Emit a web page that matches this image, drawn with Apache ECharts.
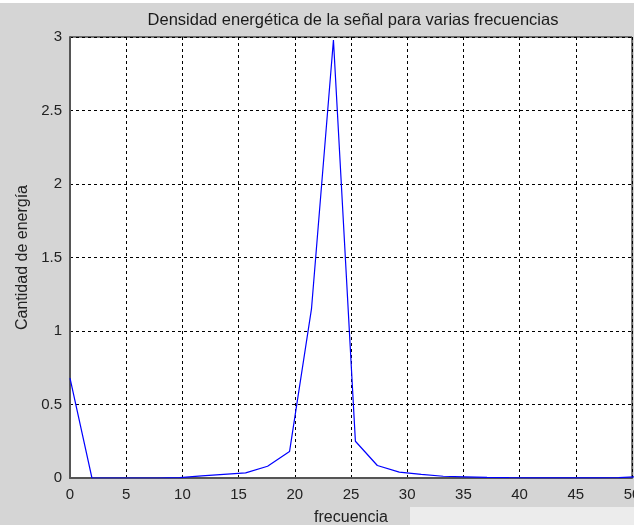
<!DOCTYPE html>
<html>
<head>
<meta charset="utf-8">
<script src="https://cdn.jsdelivr.net/npm/echarts@6/dist/echarts.min.js"></script>
<style>
html,body{margin:0;padding:0;background:#fff;}
#c{width:634px;height:525px;}
</style>
</head>
<body>
<div id="c"></div>
<script>
var frequencies = [0, 1.953, 3.906, 5.859, 7.813, 9.766, 11.719, 13.672, 15.625, 17.578, 19.531, 21.484, 23.438, 25.391, 27.344, 29.297, 31.25, 33.203, 35.156, 37.109, 39.063, 41.016, 42.969, 44.922, 46.875, 48.828, 50.781];
var energy = [0.68, 0.0, 0.0, 0.0, 0.0, 0.002, 0.015, 0.025, 0.035, 0.08, 0.18, 1.15, 2.98, 0.25, 0.085, 0.04, 0.025, 0.012, 0.008, 0.004, 0.002, 0.001, 0.001, 0.001, 0.001, 0.003, 0.01];
var xTicks = [0, 5, 10, 15, 20, 25, 30, 35, 40, 45, 50];
var yTicks = [0, 0.5, 1, 1.5, 2, 2.5, 3];

var pts = frequencies.map(function (f, i) { return [f, energy[i]]; });
var chart = echarts.init(document.getElementById('c'), null, {renderer: 'canvas'});
var fontFam = 'Liberation Sans, Arial, sans-serif';
chart.setOption({
  backgroundColor: '#d5d5d5',
  animation: false,
  title: {
    text: 'Densidad energética de la señal para varias frecuencias',
    left: 348, top: 7, textAlign: 'center',
    textStyle: {fontSize: 16.5, fontWeight: 'normal', color: '#1a1a1a', fontFamily: fontFam}
  },
  grid: {left: 70, right: 2, top: 37, bottom: 47, outerBoundsMode: 'none', containLabel: false,
         show: true, backgroundColor: '#ffffff', borderColor: '#000', borderWidth: 1},
  xAxis: {
    type: 'value', min: xTicks[0], max: xTicks[xTicks.length - 1], interval: 5,
    name: 'frecuencia', nameLocation: 'middle', nameGap: 32,
    nameTextStyle: {fontSize: 16, color: '#222', fontFamily: fontFam},
    axisLine: {lineStyle: {color: '#555', width: 2}},
    axisTick: {show: false},
    axisLabel: {fontSize: 15, color: '#222', margin: 9, fontFamily: fontFam, hideOverlap: false},
    splitLine: {show: true, lineStyle: {color: '#000', type: [3, 3], width: 1}}
  },
  yAxis: {
    type: 'value', min: yTicks[0], max: yTicks[yTicks.length - 1], interval: 0.5,
    name: 'Cantidad de energía', nameLocation: 'middle', nameGap: 34,
    nameTextStyle: {fontSize: 16, color: '#222', fontFamily: fontFam},
    axisLine: {show: true, lineStyle: {color: '#555', width: 2}},
    axisTick: {show: false},
    axisLabel: {fontSize: 15, color: '#222', margin: 8, fontFamily: fontFam},
    splitLine: {show: true, lineStyle: {color: '#000', type: [3, 3], width: 1}}
  },
  series: [{
    type: 'line', data: pts, symbol: 'none', clip: true,
    lineStyle: {color: '#0000ff', width: 1.2}
  }],
  graphic: [
    {type: 'rect', shape: {x: 0, y: 0, width: 634, height: 3}, style: {fill: '#ffffff'}, z: -1},
    {type: 'rect', shape: {x: 410, y: 507, width: 224, height: 18}, style: {fill: '#ececec'}, z: -1}
  ]
});
</script>
</body>
</html>
